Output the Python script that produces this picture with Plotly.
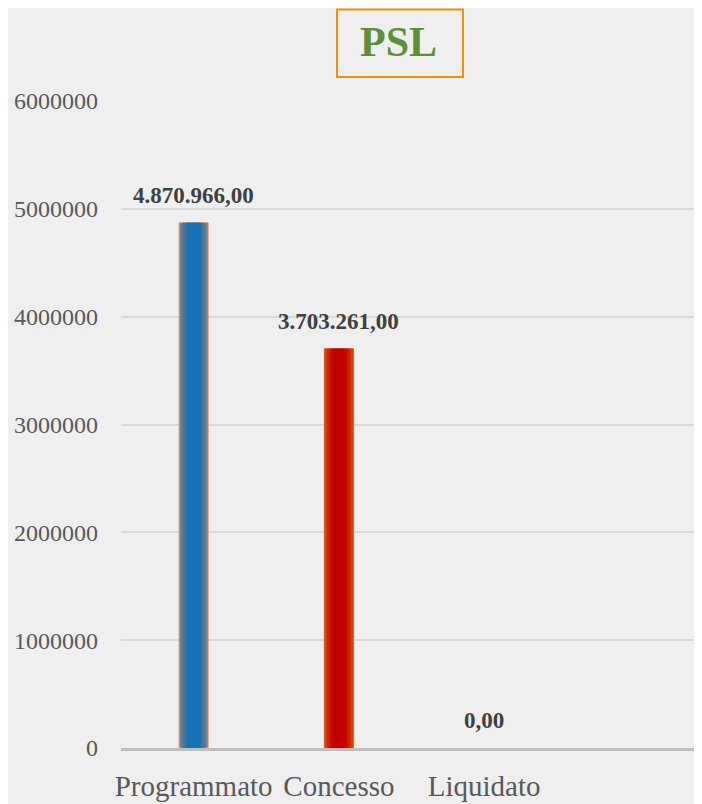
import plotly.graph_objects as go

categories = ["Programmato", "Concesso", "Liquidato"]
values = [4870966.00, 3703261.00, 0.00]
value_labels = ["4.870.966,00", "3.703.261,00", "0,00"]
y_ticks = [0, 1000000, 2000000, 3000000, 4000000, 5000000, 6000000]
title_text = "PSL"

SERIF = "Liberation Serif, Times New Roman, serif"

# gradient layers (edge -> centre) per bar
blue_layers = ["#7a7f86", "#4f7898", "#2a72aa", "#1570b6"]
red_layers = ["#d8400e", "#cf2206", "#c60a02", "#c00000"]
layer_widths = [0.2, 0.16, 0.12, 0.08]

fig = go.Figure()
for i, w in enumerate(layer_widths):
    fig.add_trace(go.Bar(
        x=categories, y=values, width=w,
        marker=dict(color=[blue_layers[i], red_layers[i], red_layers[i]],
                    line=dict(width=[1, 1, 0] if i == 0 else 0,
                              color=["#e0a070", "#e05a20", "#e05a20"])),
        hoverinfo="skip", showlegend=False,
    ))

for c, v, t in zip(categories, values, value_labels):
    fig.add_annotation(x=c, y=v, text="<b>" + t + "</b>", showarrow=False,
                       yanchor="bottom", yshift=13,
                       font=dict(family=SERIF, size=23, color="#404040"))

# title box
fig.add_shape(type="rect", xref="paper", yref="paper",
              x0=0.3718, x1=0.5886, y0=1.0371, y1=1.1415,
              line=dict(color="#f0900a", width=2), fillcolor="rgba(0,0,0,0)")
fig.add_annotation(xref="paper", yref="paper", x=0.4768, y=1.0912,
                   text="<b>" + title_text + "</b>", showarrow=False,
                   xanchor="center", yanchor="middle",
                   font=dict(family=SERIF, size=42, color="#5b8f3a"))

fig.update_layout(
    width=694, height=796,
    margin=dict(l=113, r=0, t=93, b=56),
    barmode="overlay",
    font=dict(family=SERIF, color="#595959"),
    paper_bgcolor="#efefef", plot_bgcolor="#efefef",
    showlegend=False,
    xaxis=dict(range=[-0.5, 3.5], showgrid=False, showline=True,
               linecolor="#bfbfbf", linewidth=3, ticks="",
               ticklabelstandoff=10,
               tickfont=dict(family=SERIF, size=29, color="#595959"),
               fixedrange=True),
    yaxis=dict(range=[0, 6000000], tickvals=y_ticks,
               ticktext=[str(v) for v in y_ticks],
               showgrid=True, gridcolor="#d9d9d9", gridwidth=1.5,
               zeroline=False, showline=False, ticks="",
               ticklabelstandoff=22,
               tickfont=dict(family=SERIF, size=24, color="#595959"),
               fixedrange=True),
)

fig.write_html("out.html")
